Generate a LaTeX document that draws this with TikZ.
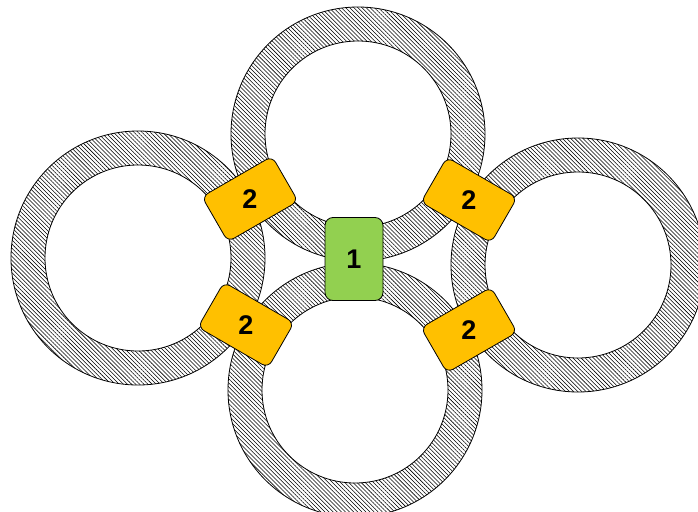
\documentclass[tikz,border=0pt]{standalone}
\usepackage{fontspec}
\setmainfont{Liberation Sans}
\usetikzlibrary{patterns.meta}
\definecolor{slotorange}{RGB}{255,192,0}
\definecolor{hubgreen}{RGB}{146,208,80}
\tikzset{
	ring/.style={draw=black, line width=0.8pt, even odd rule,
		pattern={Lines[angle=-45,distance=2.9pt,line width=0.55pt]}},
	slot/.style={draw=black, line width=0.8pt, fill=slotorange, rounded corners=7pt,
		minimum width=81pt, minimum height=52pt, inner sep=0pt},
	hub/.style={draw=black, line width=0.8pt, fill=hubgreen, rounded corners=8pt,
		minimum width=58pt, minimum height=83pt, inner sep=0pt},
	num/.style={font=\bfseries\fontsize{27}{27}\selectfont}
}
\begin{document}
\begin{tikzpicture}[x=1pt,y=-1pt]
	\useasboundingbox (0,0) rectangle (698,511);
	\clip (0,0) rectangle (698,511);
	% four rings
	\path[ring] (358,134) circle[radius=127pt] (358,134) circle[radius=93pt];
	\path[ring] (138,258) circle[radius=127pt] (138,258) circle[radius=93pt];
	\path[ring] (578,265) circle[radius=127pt] (578,265) circle[radius=93pt];
	\path[ring] (355,390) circle[radius=127pt] (355,390) circle[radius=93pt];
	% joints
	\node[slot, rotate=30] (nw) at (250,199) {};
	\node[slot, rotate=-30] (ne) at (469,200) {};
	\node[slot, rotate=-30] (sw) at (246,325) {};
	\node[slot, rotate=30] (se) at (469,330) {};
	\node[num] (nwl) at (nw) {2};
	\node[num] (nel) at (ne) {2};
	\node[num] (swl) at (sw) {2};
	\node[num] (sel) at (se) {2};
	% hub
	\node[hub] (hub) at (354,259) {};
	\node[num] (hubl) at (hub) {1};
\end{tikzpicture}
\end{document}
